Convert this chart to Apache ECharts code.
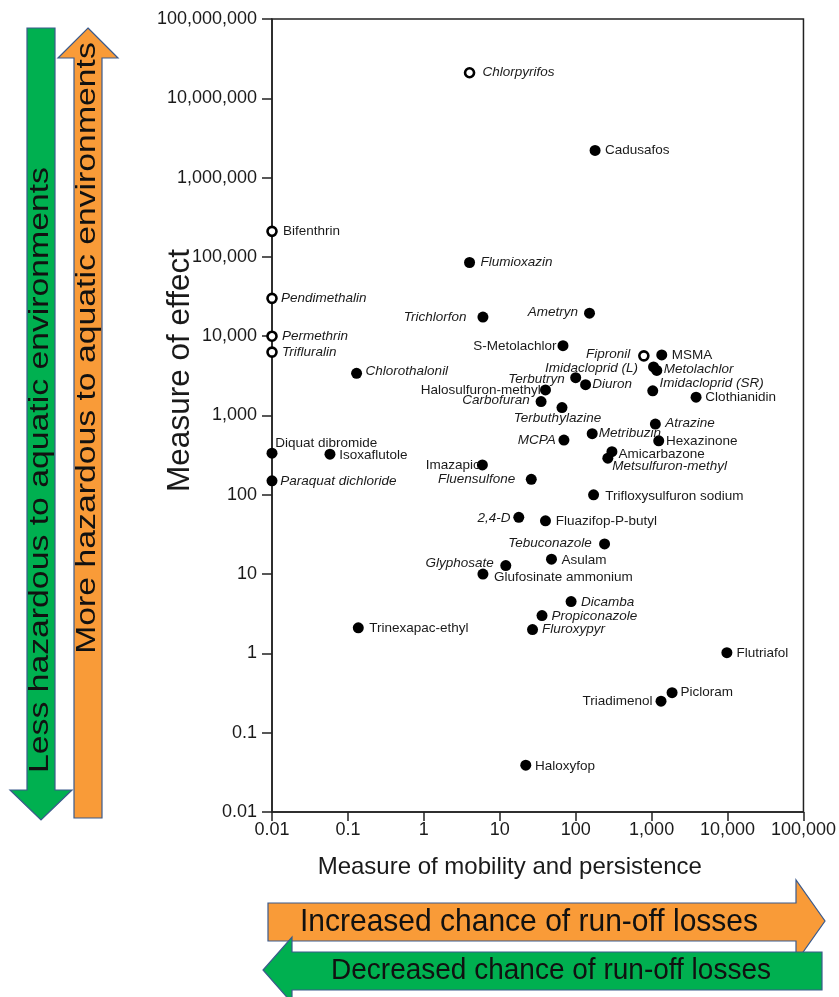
<!DOCTYPE html>
<html>
<head>
<meta charset="utf-8">
<script src="https://cdn.jsdelivr.net/npm/echarts@6/dist/echarts.min.js"></script>
<style>
  html, body { margin: 0; padding: 0; background: #ffffff; }
  #chart { width: 839px; height: 997px; }
</style>
</head>
<body>
<div id="chart"></div>
<script>
// Pesticide active ingredients: mobility/persistence vs. measure of effect
const compounds = [
  'Chlorpyrifos', 'Cadusafos', 'Bifenthrin', 'Flumioxazin', 'Pendimethalin',
  'Trichlorfon', 'Permethrin', 'Trifluralin', 'Chlorothalonil', 'Ametryn',
  'S-Metolachlor', 'Fipronil', 'MSMA', 'Imidacloprid (L)', 'Metolachlor',
  'Imidacloprid (SR)', 'Clothianidin', 'Terbutryn', 'Diuron', 'Halosulfuron-methyl',
  'Carbofuran', 'Terbuthylazine', 'Atrazine', 'Metribuzin', 'MCPA',
  'Hexazinone', 'Amicarbazone', 'Metsulfuron-methyl', 'Diquat dibromide', 'Isoxaflutole',
  'Imazapic', 'Paraquat dichloride', 'Fluensulfone', 'Trifloxysulfuron sodium', '2,4-D',
  'Fluazifop-P-butyl', 'Tebuconazole', 'Asulam', 'Glyphosate', 'Glufosinate ammonium',
  'Dicamba', 'Propiconazole', 'Fluroxypyr', 'Trinexapac-ethyl', 'Flutriafol',
  'Picloram', 'Triadimenol', 'Haloxyfop'
];

// Measure of mobility and persistence (x)
const mobility = [
  4, 180, 0.01, 4, 0.01,
  6, 0.01, 0.01, 0.13, 152,
  68, 790, 1360, 1060, 1170,
  1035, 3850, 100, 135, 40,
  35, 66, 1120, 165, 70,
  1240, 300, 265, 0.01, 0.058,
  5.9, 0.01, 26, 172, 17.8,
  40, 240, 48, 12, 6,
  87, 36, 27, 0.137, 9800,
  1860, 1330, 22
];

// Measure of effect (y)
const effect = [
  21000000, 2200000, 210000, 85000, 30000,
  17400, 10000, 6300, 3400, 19500,
  7600, 5650, 5800, 4100, 3700,
  2050, 1700, 3000, 2450, 2100,
  1500, 1260, 780, 590, 490,
  480, 350, 290, 335, 325,
  238, 150, 157, 100, 52,
  47, 24, 15.4, 12.8, 10,
  4.5, 3.0, 2.0, 2.1, 1.02,
  0.32, 0.25, 0.039
];

// Compounds drawn with an open marker
const openMarker = ['Chlorpyrifos', 'Bifenthrin', 'Pendimethalin', 'Permethrin', 'Trifluralin', 'Fipronil'];

// Compounds whose name is set in italics
const italicNames = [
  'Chlorpyrifos', 'Flumioxazin', 'Pendimethalin', 'Trichlorfon', 'Permethrin', 'Trifluralin',
  'Chlorothalonil', 'Ametryn', 'Fipronil', 'Imidacloprid (L)', 'Metolachlor', 'Imidacloprid (SR)',
  'Terbutryn', 'Diuron', 'Carbofuran', 'Terbuthylazine', 'Atrazine', 'Metribuzin', 'MCPA',
  'Metsulfuron-methyl', 'Paraquat dichloride', 'Fluensulfone', '2,4-D', 'Tebuconazole',
  'Glyphosate', 'Dicamba', 'Propiconazole', 'Fluroxypyr'
];

const xTickLabels = ['0.01', '0.1', '1', '10', '100', '1,000', '10,000', '100,000'];
const yTickLabels = ['0.01', '0.1', '1', '10', '100', '1,000', '10,000', '100,000',
  '1,000,000', '10,000,000', '100,000,000'];

// Label anchoring: [align, dx, dy] relative to the marker centre
const labelPlacement = {
  'Chlorpyrifos': ['left', 13, 0], 'Cadusafos': ['left', 10, 0], 'Bifenthrin': ['left', 11, 0],
  'Flumioxazin': ['left', 11, 0], 'Pendimethalin': ['left', 9, 0], 'Trichlorfon': ['right', -16.5, 0],
  'Permethrin': ['left', 10, 0], 'Trifluralin': ['left', 10, 0], 'Chlorothalonil': ['left', 9, -2],
  'Ametryn': ['right', -11.5, -1], 'S-Metolachlor': ['right', -6.5, 1], 'Fipronil': ['right', -13.5, -1.7],
  'MSMA': ['left', 10, 0], 'Imidacloprid (L)': ['right', -15.5, 1], 'Metolachlor': ['left', 7, -0.7],
  'Imidacloprid (SR)': ['left', 6.7, -7.7], 'Clothianidin': ['left', 9.3, 0.4], 'Terbutryn': ['right', -11, 1.6],
  'Diuron': ['left', 6.7, 0], 'Halosulfuron-methyl': ['right', -4.7, 0], 'Carbofuran': ['right', -11.3, -1.7],
  'Terbuthylazine': ['center', -4.5, 10.6], 'Atrazine': ['left', 10, -1], 'Metribuzin': ['left', 6.6, -0.7],
  'MCPA': ['right', -8.3, 0], 'Hexazinone': ['left', 7.4, 0.7], 'Amicarbazone': ['left', 6.6, 2.6],
  'Metsulfuron-methyl': ['left', 4.4, 8.4], 'Diquat dibromide': ['left', 3.3, -10], 'Isoxaflutole': ['left', 9.3, 0.7],
  'Imazapic': ['right', -2.7, 0.7], 'Paraquat dichloride': ['left', 8.3, 0], 'Fluensulfone': ['right', -16, 0],
  'Trifloxysulfuron sodium': ['left', 11.7, 1], '2,4-D': ['right', -8.3, 1.3], 'Fluazifop-P-butyl': ['left', 10.3, 0.7],
  'Tebuconazole': ['right', -12.7, -1], 'Asulam': ['left', 10, 0.7], 'Glyphosate': ['right', -12, -2.4],
  'Glufosinate ammonium': ['left', 11, 2.7], 'Dicamba': ['left', 10, 0.6], 'Propiconazole': ['left', 9.6, 0.7],
  'Fluroxypyr': ['left', 9.4, 0], 'Trinexapac-ethyl': ['left', 11, 0.6], 'Flutriafol': ['left', 9.6, 0.6],
  'Picloram': ['left', 8.3, 0], 'Triadimenol': ['right', -8.4, 0], 'Haloxyfop': ['left', 9.3, 1]
};

const FONT = '"Liberation Sans", Arial, Helvetica, sans-serif';
const INK = '#1a1a1a';

function pointItem(name, i) {
  const p = labelPlacement[name] || ['left', 9, 0];
  return {
    name: name,
    value: [mobility[i], effect[i]],
    label: {
      show: true,
      position: 'inside',
      align: p[0],
      verticalAlign: 'middle',
      offset: [p[1], p[2]],
      formatter: '{b}',
      fontFamily: FONT,
      fontSize: 13.5,
      color: INK,
      fontStyle: italicNames.includes(name) ? 'italic' : 'normal'
    }
  };
}

const solidData = [];
const openData = [];
compounds.forEach((name, i) => {
  (openMarker.includes(name) ? openData : solidData).push(pointItem(name, i));
});

function tickText(list, v) {
  const k = Math.round(Math.log10(v)) + 2;
  return list[k] !== undefined ? list[k] : '';
}

const chart = echarts.init(document.getElementById('chart'), null, { renderer: 'canvas' });

// Text inside the arrow shapes; stretch runs along the reading direction or across it
function arrowText(text, x, y, size, vertical, stretch) {
  return {
    type: 'text',
    x: x, y: y,
    rotation: vertical ? Math.PI / 2 : 0,
    scaleX: vertical ? stretch : 1,
    scaleY: vertical ? 1 : stretch,
    z: 10,
    style: {
      text: text,
      fontFamily: FONT,
      fontSize: size,
      fill: '#111',
      align: 'center',
      verticalAlign: 'middle'
    }
  };
}

function arrowShape(points, fill) {
  return {
    type: 'polygon',
    z: 5,
    shape: { points: points },
    style: { fill: fill, stroke: '#3b5a8c', lineWidth: 1.2 }
  };
}

const GREEN = '#00b050';
const ORANGE = '#f99b38';

chart.setOption({
  animation: false,
  backgroundColor: '#ffffff',
  grid: {
    left: 272, right: 35, top: 19, bottom: 185,
    show: true, borderColor: '#222', borderWidth: 1.5, backgroundColor: 'transparent'
  },
  xAxis: {
    type: 'log',
    logBase: 10,
    min: 0.01,
    max: 100000,
    interval: 1,
    splitNumber: 7,
    name: 'Measure of mobility and persistence',
    nameLocation: 'middle',
    nameGap: 43,
    nameMoveOverlap: false,
    nameTextStyle: { fontFamily: FONT, fontSize: 24, color: INK, padding: [0, 56, 0, 0] },
    axisLine: { show: true, lineStyle: { color: '#222', width: 1.5 } },
    axisTick: { show: true, inside: false, length: 9, lineStyle: { color: '#222', width: 1.5 } },
    minorTick: { show: false },
    splitLine: { show: false },
    axisLabel: {
      margin: 9,
      fontFamily: FONT,
      fontSize: 18,
      color: INK,
      showMinLabel: true,
      showMaxLabel: true,
      formatter: v => tickText(xTickLabels, v)
    }
  },
  yAxis: {
    type: 'log',
    logBase: 10,
    min: 0.01,
    max: 100000000,
    interval: 1,
    splitNumber: 10,
    name: 'Measure of effect',
    nameLocation: 'middle',
    nameGap: 76,
    nameRotate: 90,
    nameMoveOverlap: false,
    nameTextStyle: { fontFamily: FONT, fontSize: 31.5, color: INK, padding: [0, 0, 0, 90] },
    axisLine: { show: true, lineStyle: { color: '#222', width: 1.5 } },
    axisTick: { show: true, inside: false, length: 10, lineStyle: { color: '#222', width: 1.5 } },
    minorTick: { show: false },
    splitLine: { show: false },
    axisLabel: {
      margin: 15,
      fontFamily: FONT,
      fontSize: 18,
      color: INK,
      showMinLabel: true,
      showMaxLabel: true,
      formatter: v => tickText(yTickLabels, v)
    }
  },
  series: [
    {
      name: 'Solid',
      type: 'scatter',
      clip: false,
      symbol: 'circle',
      symbolSize: 11,
      itemStyle: { color: '#000000', opacity: 1 },
      emphasis: { disabled: true },
      data: solidData,
      z: 3
    },
    {
      name: 'Open',
      type: 'scatter',
      clip: false,
      symbol: 'circle',
      symbolSize: 9,
      itemStyle: { color: '#ffffff', borderColor: '#000000', borderWidth: 2.6, opacity: 1 },
      emphasis: { disabled: true },
      data: openData,
      z: 4
    }
  ],
  graphic: [
    // vertical arrows on the left
    arrowShape([[27, 28], [55, 28], [55, 790], [72, 790], [41, 820], [10, 790], [27, 790]], GREEN),
    arrowShape([[88, 28], [118, 58], [102, 58], [102, 818], [74, 818], [74, 58], [58, 58]], ORANGE),
    arrowText('Less hazardous to aquatic environments', 41, 470, 27, true, 1.25),
    arrowText('More hazardous to aquatic environments', 88, 348, 27, true, 1.25),
    // horizontal arrows at the bottom
    arrowShape([[268, 903], [796, 903], [796, 880], [825, 921], [796, 962], [796, 941], [268, 941]], ORANGE),
    arrowShape([[822, 952], [822, 990], [292, 990], [292, 1003], [263, 970], [292, 937], [292, 952]], GREEN),
    arrowText('Increased chance of run-off losses', 529, 922, 30, false, 1.06),
    arrowText('Decreased chance of run-off losses', 551, 971, 28, false, 1.08)
  ]
});
</script>
</body>
</html>
